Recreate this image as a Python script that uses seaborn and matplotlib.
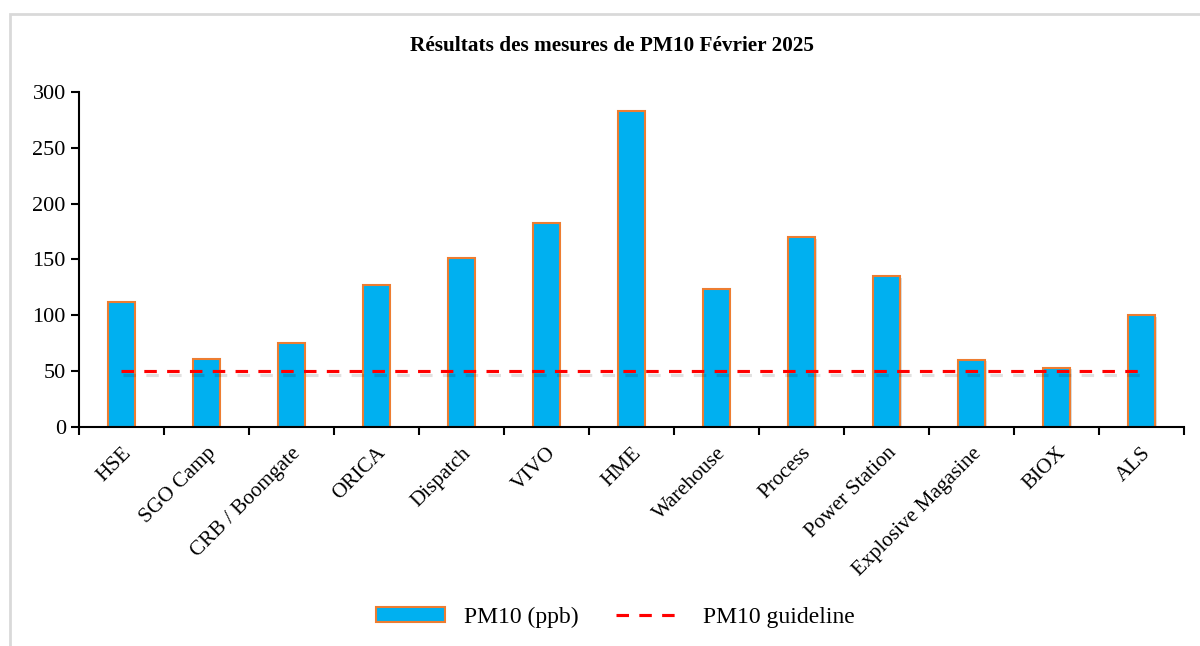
import pandas as pd
import numpy as np
import matplotlib.pyplot as plt
import matplotlib.patheffects as pe
from matplotlib.patches import Rectangle, Patch
from matplotlib.lines import Line2D
import seaborn as sns

# Site names and measured PM10 values, Feb 2025
sites = ['HSE', 'SGO Camp', 'CRB / Boomgate', 'ORICA', 'Dispatch', 'VIVO', 'HME',
         'Warehouse', 'Process', 'Power Station', 'Explosive Magasine', 'BIOX', 'ALS']
pm10 = [112, 61, 75, 127, 151, 183, 283, 124, 170, 135, 60, 53, 100]
guideline = [50] * len(sites)
y_ticks = [0, 50, 100, 150, 200, 250, 300]

sns.set_style('white')
plt.rcParams['font.family'] = ['Liberation Serif', 'DejaVu Serif']
plt.rcParams['text.color'] = 'black'
plt.rcParams['xtick.color'] = 'black'
plt.rcParams['ytick.color'] = 'black'

df = pd.DataFrame({'site': sites, 'pm10': pm10, 'guideline': guideline})

bar_color = '#00b0f0'
edge_color = '#ed7d31'
line_color = '#ff0000'
dash = (0, (4, 3.3))

fig = plt.figure(figsize=(12, 6.46), dpi=100)
ax = fig.add_axes([0.0658, 0.339, 0.9209, 0.5186])

# light grey chart-area border
fig.patches.append(Rectangle((10 / 1200, -0.05), 1.2, 1 - 14 / 646 + 0.05,
                             transform=fig.transFigure, fill=False,
                             edgecolor='#d9d9d9', linewidth=2))

sns.barplot(data=df, x='site', y='pm10', ax=ax, color=bar_color, width=0.32,
            edgecolor=edge_color, linewidth=1.5, saturation=1)
for bar in ax.patches:
    bar.set_path_effects([pe.SimplePatchShadow(offset=(1, -1), alpha=0.15), pe.Normal()])

sns.lineplot(data=df, x='site', y='guideline', ax=ax, color=line_color, linewidth=2.25,
             linestyle=dash,
             path_effects=[pe.SimpleLineShadow(offset=(1, -3), alpha=0.12, shadow_color='black'),
                           pe.Normal()])

ax.set_xlim(-0.5, len(sites) - 0.5)
ax.set_ylim(0, 300)
ax.set_yticks(y_ticks)
ax.set_xticks(np.arange(len(sites)))
ax.set_xticklabels(sites, rotation=45, ha='right', rotation_mode='anchor')
ax.set_xticks(np.arange(len(sites) + 1) - 0.5, minor=True)
ax.tick_params(axis='x', which='major', length=0, labelsize=15.3, pad=12)
ax.tick_params(axis='x', which='minor', length=6, width=1.5, direction='out', bottom=True)
ax.tick_params(axis='y', length=6, width=1.5, direction='out', left=True, labelsize=16)
ax.set_xlabel('')
ax.set_ylabel('')

for side in ['top', 'right']:
    ax.spines[side].set_visible(False)
for side in ['left', 'bottom']:
    ax.spines[side].set_color('black')
    ax.spines[side].set_linewidth(1.5)

fig.text(612 / 1200, 1 - 46 / 646, 'Résultats des mesures de PM10 Février 2025',
         ha='center', va='center', fontsize=15.3, fontweight='bold')

handles = [Patch(facecolor=bar_color, edgecolor=edge_color, linewidth=1.5),
           Line2D([], [], color=line_color, linewidth=2.25, linestyle=dash)]
ax.legend(handles, ['PM10 (ppb)', 'PM10 guideline'], loc='center',
          bbox_to_anchor=(0.513, 1 - 617 / 646), bbox_transform=fig.transFigure,
          ncol=2, frameon=False, fontsize=17, handlelength=2.9, handleheight=0.6,
          columnspacing=1.6)

plt.savefig('out.png', dpi=100)
plt.close()
